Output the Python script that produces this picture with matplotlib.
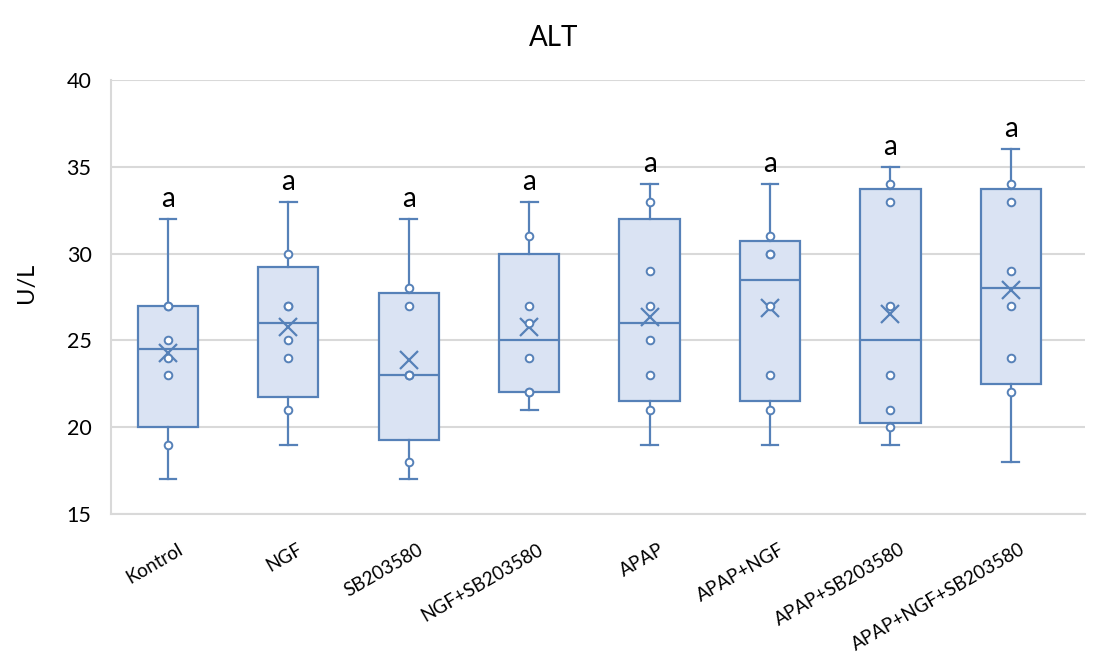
import numpy as np
import matplotlib
matplotlib.use("Agg")
import matplotlib.pyplot as plt

plt.rcParams['font.family'] = ['Lato', 'DejaVu Sans']

# group names and raw values (U/L)
groups = ["Kontrol", "NGF", "SB203580", "NGF+SB203580",
          "APAP", "APAP+NGF", "APAP+SB203580", "APAP+NGF+SB203580"]
kontrol = [17, 19, 23, 24, 25, 27, 27, 32]
ngf = [19, 21, 24, 25, 27, 27, 30, 33]
sb = [17, 18, 23, 23, 23, 27, 28, 32]
ngf_sb = [21, 22, 22, 24, 26, 27, 31, 33]
apap = [19, 21, 23, 25, 27, 29, 33, 34]
apap_ngf = [19, 21, 23, 27, 30, 30, 31, 34]
apap_sb = [19, 20, 21, 23, 27, 33, 34, 35]
apap_ngf_sb = [18, 22, 24, 27, 29, 33, 34, 36]
letters = ["a"] * 8

data = [kontrol, ngf, sb, ngf_sb, apap, apap_ngf, apap_sb, apap_ngf_sb]

edge = "#5681b8"
fill = "#dae3f3"
grid = "#d9d9d9"

# Excel style box stats: exclusive quartiles, whiskers at min/max
stats = []
for name, vals in zip(groups, data):
    v = np.sort(np.array(vals, dtype=float))
    q1, med, q3 = np.percentile(v, [25, 50, 75], method="weibull")
    stats.append(dict(label=name, whislo=v.min(), q1=q1, med=med, q3=q3,
                      whishi=v.max(), mean=v.mean(), fliers=[]))

fig = plt.figure(figsize=(10.99, 6.63), dpi=100)
ax = fig.add_axes([111 / 1099, 1 - 514 / 663, 974 / 1099, 434 / 663])

pos = np.arange(len(groups))
ax.bxp(stats, positions=pos, widths=0.5, capwidths=0.14, showmeans=True,
       patch_artist=True, zorder=3,
       boxprops=dict(facecolor=fill, edgecolor=edge, linewidth=1.6),
       medianprops=dict(color=edge, linewidth=1.6),
       whiskerprops=dict(color=edge, linewidth=1.6),
       capprops=dict(color=edge, linewidth=1.6),
       meanprops=dict(marker="x", markeredgecolor=edge, markersize=13,
                      markeredgewidth=1.6))

# inner points (everything except min and max)
for i, vals in enumerate(data):
    v = np.sort(vals)[1:-1]
    ax.plot(np.full(len(v), pos[i]), v, "o", ms=5.5, mfc="white",
            mec=edge, mew=1.4, zorder=4, linestyle="none")

for i, vals in enumerate(data):
    ax.annotate(letters[i], xy=(pos[i], max(vals)), xytext=(0, 12),
                textcoords="offset pixels", ha="center", va="baseline",
                fontsize=20, color="black")

ax.set_ylim(15, 40)
ax.set_yticks([15, 20, 25, 30, 35, 40])
ax.set_xlim(-0.473, 7.616)
ax.yaxis.grid(True, color=grid, linewidth=1.5, zorder=0)
ax.set_axisbelow(True)
for s in ["top", "right"]:
    ax.spines[s].set_visible(False)
ax.spines["left"].set_color(grid)
ax.spines["bottom"].set_color(grid)
ax.spines["left"].set_linewidth(1.5)
ax.spines["bottom"].set_linewidth(1.5)
ax.tick_params(axis="y", length=0, pad=14, labelsize=15.5)
ax.tick_params(axis="x", length=0)
ax.set_xticks(pos)
ax.set_xticklabels([""] * len(groups))

for i, name in enumerate(groups):
    ax.annotate(name, xy=(pos[i], 0), xycoords=("data", "axes fraction"),
                xytext=(13, -34), textcoords="offset pixels", rotation=30,
                ha="right", va="center", rotation_mode="anchor", fontsize=13.5)

ax.set_ylabel("U/L", fontsize=17)
ax.yaxis.set_label_coords(-0.076, 0.532)

fig.text(0.504, 1 - 38 / 663, "ALT", ha="center", va="center", fontsize=20)

fig.savefig("out.png", dpi=100)
